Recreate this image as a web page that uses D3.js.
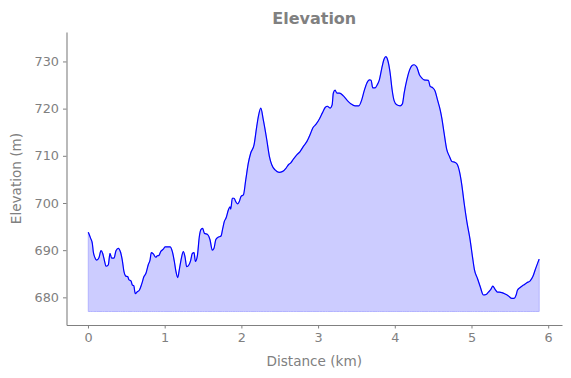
<!DOCTYPE html>
<html>
<head>
<meta charset="utf-8">
<script src="https://cdn.jsdelivr.net/npm/d3@7"></script>
<style>
  html, body { margin: 0; padding: 0; background: #fff; }
  svg { display: block; font-family: "DejaVu Sans", sans-serif; }
</style>
</head>
<body>
<svg id="chart" width="571" height="378"></svg>
<script>
const distanceKm = [0.004,0.035,0.056,0.069,0.091,0.113,0.143,0.170,0.192,0.213,0.235,0.265,0.287,0.309,0.339,0.365,0.395,0.426,0.447,0.470,0.492,0.518,0.535,0.561,0.578,0.596,0.617,0.643,0.669,0.700,0.730,0.756,0.786,0.809,0.826,0.852,0.883,0.904,0.926,0.948,0.982,1.004,1.070,1.100,1.126,1.148,1.170,1.191,1.213,1.243,1.265,1.287,1.317,1.340,1.360,1.383,1.400,1.426,1.452,1.474,1.496,1.517,1.561,1.591,1.621,1.643,1.666,1.692,1.735,1.757,1.778,1.800,1.830,1.852,1.861,1.882,1.904,1.926,1.953,1.973,1.996,2.026,2.057,2.091,2.122,2.165,2.200,2.221,2.253,2.286,2.331,2.365,2.396,2.439,2.491,2.539,2.583,2.613,2.644,2.678,2.722,2.765,2.808,2.853,2.896,2.931,2.974,3.017,3.056,3.095,3.121,3.156,3.183,3.199,3.222,3.244,3.278,3.330,3.382,3.430,3.482,3.531,3.570,3.600,3.635,3.669,3.691,3.713,3.743,3.773,3.799,3.831,3.861,3.883,3.909,3.939,3.965,3.991,4.026,4.069,4.099,4.122,4.157,4.191,4.222,4.252,4.287,4.321,4.352,4.382,4.438,4.461,4.496,4.526,4.556,4.591,4.613,4.643,4.678,4.712,4.744,4.787,4.817,4.843,4.874,4.904,4.939,4.982,5.012,5.038,5.078,5.113,5.156,5.191,5.221,5.252,5.278,5.308,5.338,5.365,5.396,5.439,5.482,5.526,5.556,5.582,5.599,5.635,5.678,5.722,5.765,5.800,5.830,5.882];
const elevationM = [693.8,692.5,691.5,689.7,688.4,687.9,688.4,689.9,689.3,687.9,686.6,686.9,689.3,688.3,688.3,689.9,690.4,689.5,687.9,685.4,684.5,684.4,683.7,683.5,682.6,682.5,680.8,681.2,681.5,682.8,684.4,685.1,686.9,687.9,689.5,689.2,688.5,688.8,688.9,689.7,690.2,690.7,690.7,689.7,687.6,685.4,684.2,685.9,687.9,689.7,688.6,686.5,686.9,687.9,689.3,689.5,687.6,688.8,692.9,694.4,694.6,693.6,693.3,692.2,690.0,690.4,692.2,692.7,693.0,694.6,696.1,696.8,698.5,699.2,698.7,701.0,701.0,700.3,699.8,700.3,701.4,701.7,704.9,708.5,710.6,712.3,716.2,718.3,720.1,717.6,713.4,709.9,708.1,707.0,706.5,706.7,707.4,708.1,708.5,709.3,710.2,710.9,712.0,713.0,714.5,715.9,716.7,717.8,719.1,720.3,720.5,720.1,720.8,723.3,723.9,723.3,723.3,722.7,721.7,721.0,720.6,720.6,721.9,723.7,725.4,726.1,726.0,724.4,724.4,725.1,726.1,728.6,730.5,731.0,730.2,727.6,724.0,721.7,720.8,720.6,721.0,723.3,726.1,728.1,729.1,729.3,728.8,727.2,726.5,726.1,726.0,724.7,724.4,723.7,721.9,719.8,718.0,714.8,711.3,709.9,708.8,708.6,708.1,706.7,703.8,700.0,696.1,692.2,688.7,685.9,684.0,682.3,680.5,680.6,681.1,681.7,682.4,681.7,681.1,681.1,681.0,680.7,680.3,679.8,679.8,680.5,681.5,682.1,682.6,683.1,683.5,684.4,685.8,688.1];
const xTicks = [0, 1, 2, 3, 4, 5, 6];
const yTicks = [680, 690, 700, 710, 720, 730];
const fillBase = 677;
const titleText = "Elevation";
const xLabel = "Distance (km)";
const yLabel = "Elevation (m)";

const data = distanceKm.map((d, i) => ({ x: d, y: elevationM[i] }));

const svg = d3.select("#chart");
const mLeft = 66.5, mRight = 562, mTop = 32, mBottom = 325;
const x = d3.scaleLinear().domain([-0.28, 6.18]).range([mLeft, mRight]);
const y = d3.scaleLinear().domain([674.14, 736.24]).range([mBottom, mTop]);
const grey = "#808080";

// area
const area = d3.area().x(d => x(d.x)).y0(y(fillBase)).y1(d => y(d.y)).curve(d3.curveMonotoneX);
svg.append("path").datum(data).attr("d", area)
  .attr("fill", "#ccccff").attr("stroke", "#b3b3ff").attr("stroke-width", 1);

const line = d3.line().x(d => x(d.x)).y(d => y(d.y)).curve(d3.curveMonotoneX);
svg.append("path").datum(data).attr("d", line)
  .attr("fill", "none").attr("stroke", "#0000ff").attr("stroke-width", 1.2)
  .attr("stroke-linejoin", "round");

// axes
const xAxis = d3.axisBottom(x).tickValues(xTicks).tickFormat(d3.format("d")).tickSizeInner(3.5).tickSizeOuter(0).tickPadding(4);
const gx = svg.append("g").attr("transform", `translate(0,${mBottom})`).call(xAxis);
const yAxis = d3.axisLeft(y).tickValues(yTicks).tickFormat(d3.format("d")).tickSizeInner(3.5).tickSizeOuter(0).tickPadding(4);
const gy = svg.append("g").attr("transform", `translate(${mLeft},0)`).call(yAxis);
[gx, gy].forEach(g => {
  g.select(".domain").attr("stroke", grey).attr("stroke-width", 1.1);
  g.selectAll(".tick line").attr("stroke", grey).attr("stroke-width", 1);
  g.selectAll(".tick text").attr("fill", grey).style("font-size", "12.8px").style("font-family", "DejaVu Sans, sans-serif");
});

svg.append("text").attr("x", (mLeft + mRight) / 2).attr("y", 24).attr("text-anchor", "middle")
  .attr("fill", grey).style("font-size", "16px").style("font-weight", "bold").text(titleText);
svg.append("text").attr("x", (mLeft + mRight) / 2).attr("y", 366).attr("text-anchor", "middle")
  .attr("fill", grey).style("font-size", "13.6px").text(xLabel);
svg.append("text").attr("transform", `translate(21,${(mTop + mBottom) / 2}) rotate(-90)`).attr("text-anchor", "middle")
  .attr("fill", grey).style("font-size", "13.6px").text(yLabel);
</script>
</body>
</html>
